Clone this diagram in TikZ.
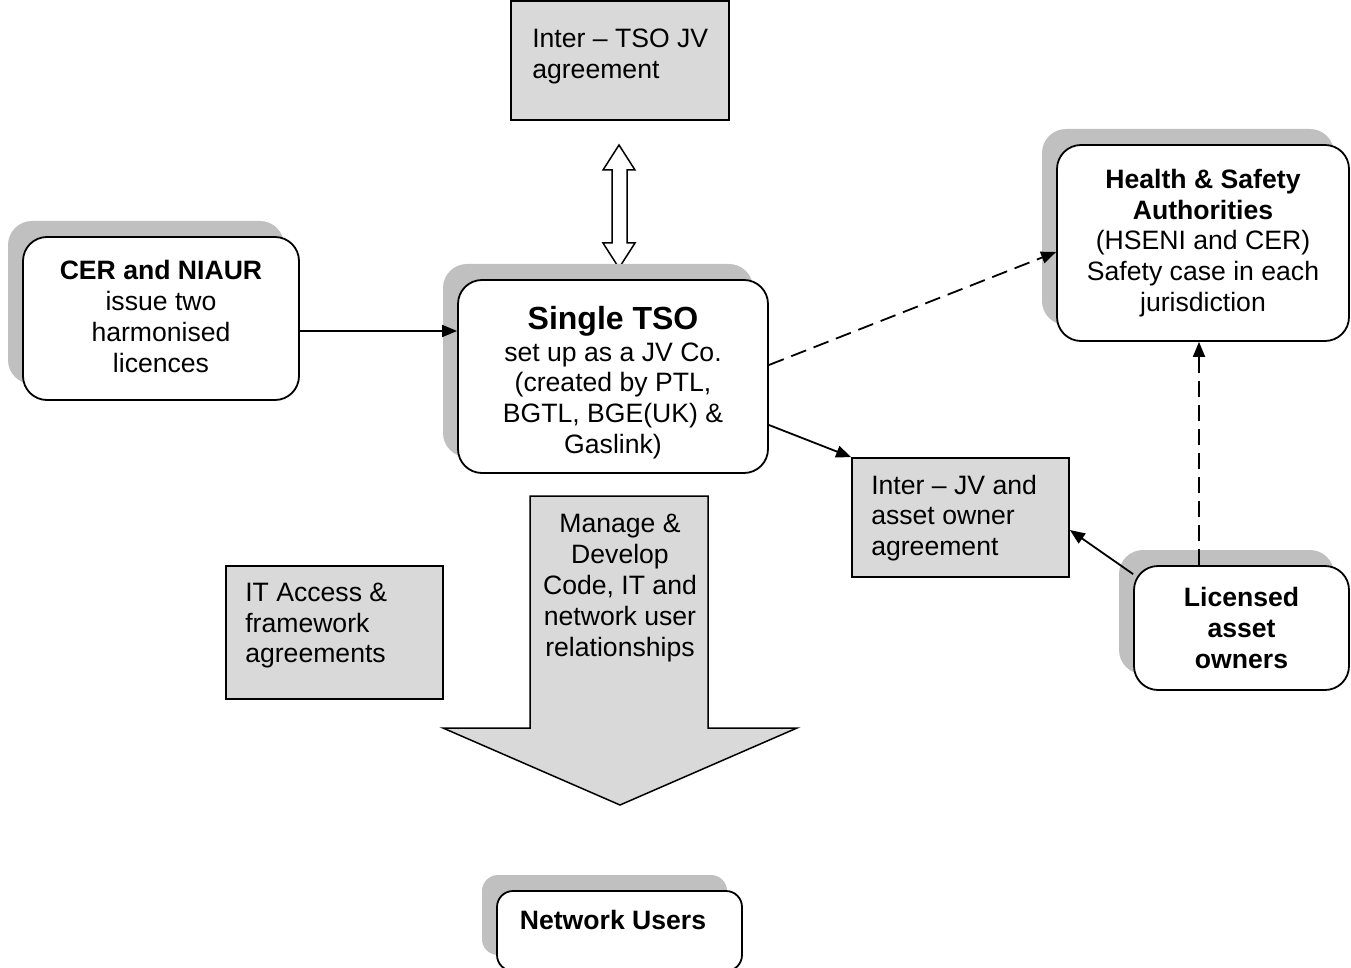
\documentclass[tikz,border=0pt]{standalone}
\usepackage{fontspec}
\setmainfont{Liberation Sans}
\usetikzlibrary{shadows,arrows.meta}
\definecolor{shgray}{RGB}{192,192,192}
\definecolor{boxgray}{RGB}{217,217,217}
\begin{document}
\begin{tikzpicture}[x=1pt,y=-1pt,
  fnt/.style={font=\fontsize{26.6}{30.8}\selectfont},
  rbox/.style={draw, line width=1.8pt, rounded corners=24pt, fill=white, fnt, align=center, inner sep=0pt,
    drop shadow={shadow xshift=-15pt, shadow yshift=16pt, fill=shgray, opacity=1}},
  gbox/.style={draw, line width=1.8pt, fill=boxgray, inner sep=0pt},
  gtxt/.style={fnt, align=left, anchor=north west, inner sep=0pt},
  conn/.style={line width=1.8pt, -{Triangle[length=15pt,width=12pt]}},
  dconn/.style={conn, dash pattern=on 16pt off 8pt},
  hollow/.style={line width=1.5pt, fill=white, line join=miter},
  bigarrow/.style={line width=1.5pt, fill=boxgray, line join=miter}
]
\clip (0,0) rectangle (1351,968);

% top gray box
\node[gbox, minimum width=218pt, minimum height=119pt] (topbox) at (620,60.5) {};
\node[gtxt] (toptxt) at ([shift={(22,29)}]topbox.north west) {Inter -- TSO JV\\agreement};

% double hollow arrow
\draw[hollow] (619,145) -- (635,170) -- (627,170) -- (627,243) -- (635,243) -- (619,268)
  -- (603,243) -- (612,243) -- (612,170) -- (603,170) -- cycle;

% CER box
\node[rbox, minimum width=276pt, minimum height=163pt] (cer) at (161,318.5) {};
\node[fnt, align=center, inner sep=0pt] (certxt) at ([yshift=2pt]cer.center)
  {\textbf{CER and NIAUR}\\issue two\\harmonised\\licences};

% Single TSO
\node[rbox, minimum width=310pt, minimum height=193pt] (tso) at (613,376.5) {};
\node[fnt, align=center, inner sep=0pt] (tsotxt) at ([yshift=-6pt]tso.center)
  {{\fontsize{32}{36}\selectfont\bfseries Single TSO}\\[1pt]set up as a JV Co.\\(created by PTL,\\BGTL, BGE(UK) \&\\Gaslink)};

% Health & Safety
\node[rbox, minimum width=292pt, minimum height=196pt] (hs) at (1203,243)
  {\textbf{Health \& Safety}\\\textbf{Authorities}\\(HSENI and CER)\\Safety case in each\\jurisdiction};

% Inter JV box
\node[gbox, minimum width=217pt, minimum height=119pt] (jv) at (960.5,517.5) {};
\node[gtxt] (jvtxt) at ([shift={(20,17.5)}]jv.north west) {Inter -- JV and\\asset owner\\agreement};

% Licensed asset owners
\node[rbox, minimum width=215pt, minimum height=124pt] (lic) at (1241.5,628)
  {\textbf{Licensed}\\\textbf{asset}\\\textbf{owners}};

% IT box
\node[gbox, minimum width=217pt, minimum height=133pt] (it) at (334.5,632.5) {};
\node[gtxt] (ittxt) at ([shift={(20,17.5)}]it.north west) {IT Access \&\\framework\\agreements};

% big arrow
\draw[bigarrow] (530,496) -- (708,496) -- (708,728) -- (797,728) -- (620,805) -- (443,728) -- (530,728) -- cycle;
\node[font=\fontsize{26.6}{31}\selectfont, align=center, inner sep=0pt] (bigtxt) at (620,588)
  {Manage \&\\Develop\\Code, IT and\\network user\\relationships};

% Network users
\node[rbox, rounded corners=16pt, minimum width=245pt, minimum height=80pt] (nu) at (619.5,931) {};
\node[fnt, font=\fontsize{26.6}{30.6}\selectfont\bfseries, inner sep=0pt] (nutxt) at ([shift={(-6.5,-11)}]nu.center) {Network Users};

% connectors
\draw[conn] ([yshift=-12.5pt]cer.east) -- ([yshift=-12.5pt]cer.east -| tso.west);
\draw[dconn] ([yshift=11.5pt]tso.east) -- ([yshift=-9pt]hs.west);
\draw[conn] ([yshift=-48.5pt]tso.east) -- (jv.north west);
\draw[conn] ([yshift=-9pt]lic.north west) -- ([yshift=-12.5pt]jv.east);
\draw[dconn] ([xshift=-4pt]hs.south |- lic.north) -- ([xshift=-4pt]hs.south);
\end{tikzpicture}
\end{document}
